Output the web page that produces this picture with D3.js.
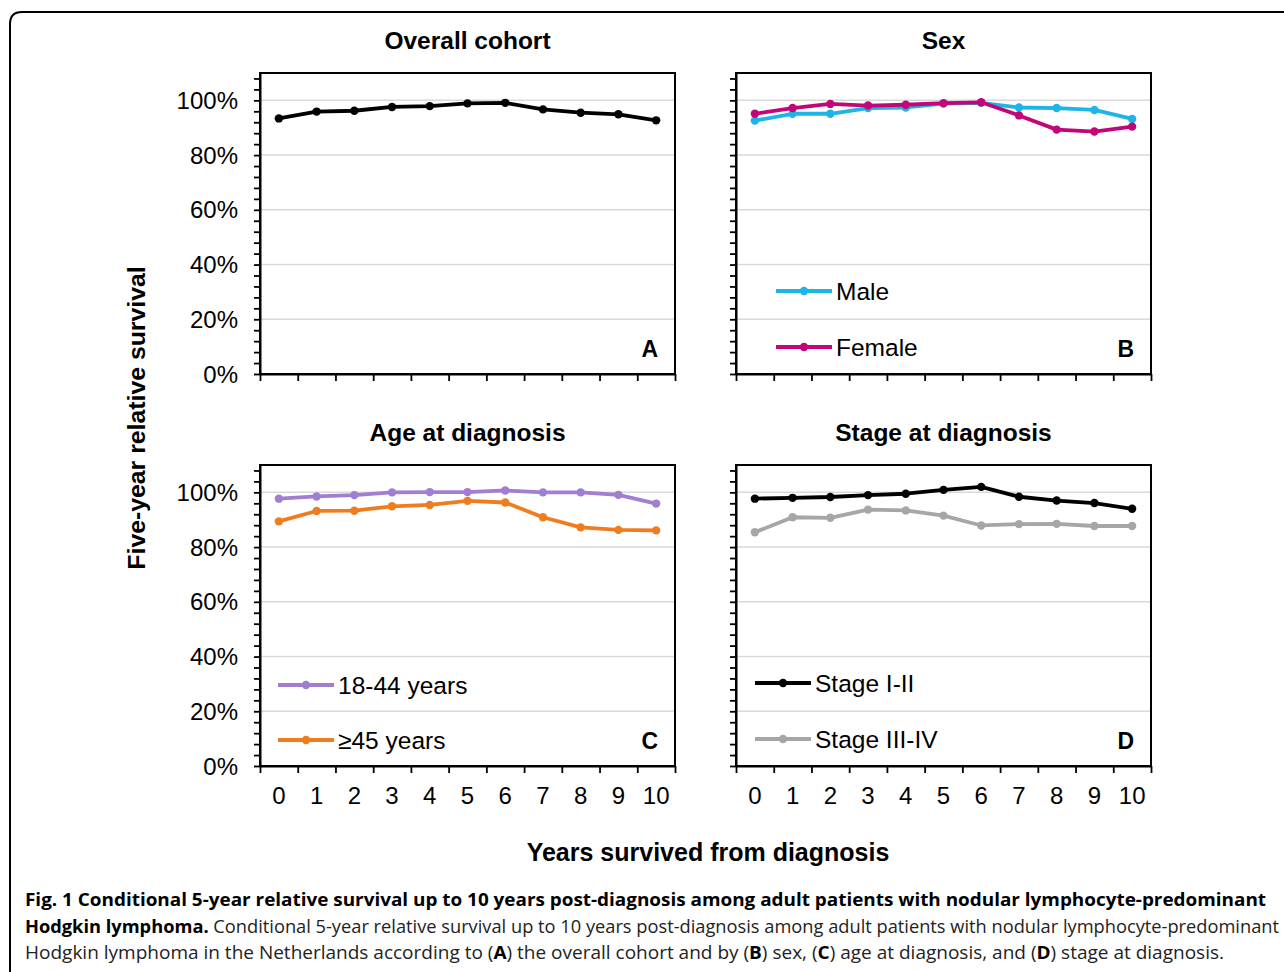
<!DOCTYPE html>
<html><head><meta charset="utf-8">
<script src="https://cdn.jsdelivr.net/npm/d3@7"></script>
<style>body{margin:0;background:#fff}svg{display:block}</style>
</head><body>
<svg id="c" width="1284" height="972"></svg>
<script>
const years = [0,1,2,3,4,5,6,7,8,9,10];
const yTickLabels = [0,20,40,60,80,100];
const overall = [93.4,95.9,96.2,97.6,97.9,98.9,99.1,96.7,95.5,94.9,92.7];
const male    = [92.6,95.1,95.1,97.2,97.4,98.8,99.1,97.4,97.2,96.5,93.2];
const female  = [95.1,97.2,98.7,98.1,98.4,99.0,99.3,94.5,89.3,88.6,90.4];
const age1844 = [97.7,98.5,99.0,100.0,100.1,100.1,100.7,100.0,100.0,99.1,95.9];
const age45   = [89.4,93.2,93.3,94.9,95.4,96.9,96.3,90.9,87.2,86.3,86.1];
const stage12 = [97.7,98.0,98.3,99.0,99.5,100.9,102.0,98.4,97.0,96.1,94.0];
const stage34 = [85.4,90.9,90.7,93.7,93.4,91.5,87.9,88.4,88.5,87.7,87.7];

const panels = [
  {title:"Overall cohort", letter:"A", x0:260, x1:675, y0:73, y1:374, ylab:true, xlab:false,
   series:[{name:null, values:overall, color:"#000000"}], legX:0, legY:[]},
  {title:"Sex", letter:"B", x0:736, x1:1151, y0:73, y1:374, ylab:false, xlab:false,
   series:[{name:"Male", values:male, color:"#1DB4E8"},{name:"Female", values:female, color:"#C2067A"}], legX:776, legY:[291,347]},
  {title:"Age at diagnosis", letter:"C", x0:260, x1:675, y0:465, y1:766, ylab:true, xlab:true,
   series:[{name:"18-44 years", values:age1844, color:"#A27ED2"},{name:"\u226545 years", values:age45, color:"#EF7D1F"}], legX:278, legY:[685,740]},
  {title:"Stage at diagnosis", letter:"D", x0:736, x1:1151, y0:465, y1:766, ylab:false, xlab:true,
   series:[{name:"Stage I-II", values:stage12, color:"#000000"},{name:"Stage III-IV", values:stage34, color:"#A6A6A6"}], legX:755, legY:[683,739]}
];

const svg = d3.select("#c");
const FONT = "Liberation Sans, Arial, sans-serif";

// outer rounded border
svg.append("path")
  .attr("d","M10,990 L10,24 Q10,12 22,12 L1300,12")
  .attr("fill","none").attr("stroke","#000").attr("stroke-width",2);

panels.forEach(p => {
  const x = d3.scaleLinear().domain([-0.5,10.5]).range([p.x0,p.x1]);
  const y = d3.scaleLinear().domain([0,110]).range([p.y1,p.y0]);
  const g = svg.append("g");

  g.selectAll("line.grid").data([20,40,60,80,100]).join("line")
    .attr("x1",p.x0).attr("x2",p.x1).attr("y1",d=>y(d)).attr("y2",d=>y(d))
    .attr("stroke","#d9d9d9").attr("stroke-width",1.5);

  g.append("rect").attr("x",p.x0).attr("y",p.y0).attr("width",p.x1-p.x0).attr("height",p.y1-p.y0)
    .attr("fill","none").attr("stroke","#000").attr("stroke-width",2);

  const ya = g.append("g").attr("transform",`translate(${p.x0},0)`)
    .call(d3.axisLeft(y).tickValues(d3.range(0,110,4)).tickSize(6).tickFormat("").tickSizeOuter(0));
  ya.select(".domain").attr("stroke-width",2);
  ya.selectAll(".tick line").attr("stroke-width",1.8);
  if (p.ylab) {
    g.selectAll("text.yl").data(yTickLabels).join("text")
      .attr("x",p.x0-22).attr("y",d=>y(d)).attr("dy","0.36em")
      .attr("text-anchor","end").attr("font-family",FONT).attr("font-size",24)
      .text(d=>d+"%");
  }
  const xa = g.append("g").attr("transform",`translate(0,${p.y1})`)
    .call(d3.axisBottom(x).tickValues(d3.range(-0.5,11,1)).tickSize(7).tickFormat("").tickSizeOuter(0));
  xa.select(".domain").attr("stroke-width",2);
  xa.selectAll(".tick line").attr("stroke-width",1.8);
  if (p.xlab) {
    g.selectAll("text.xl").data(years).join("text")
      .attr("x",d=>x(d)).attr("y",p.y1+38).attr("text-anchor","middle")
      .attr("font-family",FONT).attr("font-size",24).text(d=>d);
  }

  g.append("text").attr("x",(p.x0+p.x1)/2).attr("y",p.y0-24).attr("text-anchor","middle")
    .attr("font-family",FONT).attr("font-size",24.5).attr("font-weight","bold").text(p.title);
  g.append("text").attr("x",p.x1-17).attr("y",p.y1-17).attr("text-anchor","end")
    .attr("font-family",FONT).attr("font-size",23).attr("font-weight","bold").text(p.letter);

  const line = d3.line().x((d,i)=>x(years[i])).y(d=>y(d));
  p.series.forEach((s,si) => {
    g.append("path").datum(s.values).attr("d",line).attr("fill","none")
      .attr("stroke",s.color).attr("stroke-width",3.8).attr("stroke-linejoin","round");
    g.selectAll(null).data(s.values).join("circle")
      .attr("cx",(d,i)=>x(years[i])).attr("cy",d=>y(d)).attr("r",4.2).attr("fill",s.color);
    if (s.name) {
      const ly = p.legY[si];
      g.append("line").attr("x1",p.legX).attr("x2",p.legX+56).attr("y1",ly).attr("y2",ly)
        .attr("stroke",s.color).attr("stroke-width",3.8);
      g.append("circle").attr("cx",p.legX+28).attr("cy",ly).attr("r",4.2).attr("fill",s.color);
      g.append("text").attr("x",p.legX+60).attr("y",ly).attr("dy","0.36em")
        .attr("font-family",FONT).attr("font-size",24.5).text(s.name);
    }
  });
});

svg.append("text").attr("transform","translate(145,418) rotate(-90)").attr("text-anchor","middle")
  .attr("font-family",FONT).attr("font-size",24.8).attr("font-weight","bold").text("Five-year relative survival");
svg.append("text").attr("x",708).attr("y",861).attr("text-anchor","middle")
  .attr("font-family",FONT).attr("font-size",25).attr("font-weight","bold").text("Years survived from diagnosis");

const CF = "Open Sans, Noto Sans, sans-serif";
svg.append("text").attr("x",25).attr("y",906).attr("font-family",CF).attr("font-size",17.5)
  .attr("font-weight","bold").attr("textLength",1241).attr("lengthAdjust","spacingAndGlyphs")
  .text("Fig. 1 Conditional 5-year relative survival up to 10 years post-diagnosis among adult patients with nodular lymphocyte-predominant");
const c2 = svg.append("text").attr("x",25).attr("y",933).attr("font-family",CF).attr("font-size",17.5)
  .attr("textLength",1254).attr("lengthAdjust","spacingAndGlyphs").attr("fill","#222");
c2.append("tspan").attr("font-weight","bold").attr("fill","#000").text("Hodgkin lymphoma.");
c2.append("tspan").text(" Conditional 5-year relative survival up to 10 years post-diagnosis among adult patients with nodular lymphocyte-predominant");
const c3 = svg.append("text").attr("x",25).attr("y",959).attr("font-family",CF).attr("font-size",17.5)
  .attr("textLength",1199).attr("lengthAdjust","spacingAndGlyphs").attr("fill","#222");
[["Hodgkin lymphoma in the Netherlands according to (",0],["A",1],[") the overall cohort and by (",0],["B",1],[") sex, (",0],["C",1],[") age at diagnosis, and (",0],["D",1],[") stage at diagnosis.",0]]
  .forEach(([t,b]) => { const ts = c3.append("tspan").text(t); if(b) ts.attr("font-weight","bold").attr("fill","#000"); });
</script>
</body></html>
